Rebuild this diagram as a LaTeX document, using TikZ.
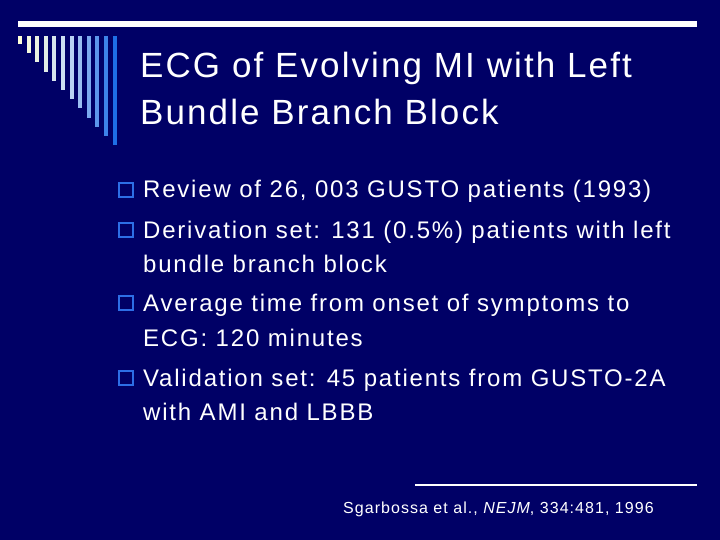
\documentclass[tikz,border=0pt]{standalone}
\usepackage{fontspec}
\setmainfont{Liberation Sans}
\begin{document}
\begin{tikzpicture}[x=1pt,y=-1pt,
  body/.style={anchor=base west,inner sep=0,font=\fontsize{24}{28}\selectfont\addfontfeature{LetterSpace=7.5},text=white},
  bul/.style={draw=bulc,line width=1.6pt,minimum size=14pt,inner sep=0}]
\definecolor{bg}{RGB}{0,0,102}
\definecolor{bulc}{RGB}{45,110,230}
\fill[bg] (0,0) rectangle (720,540);
\useasboundingbox (0,0) rectangle (720,540);
\fill[white] (18,21) rectangle (697,27);
\foreach \i in {0,...,11}{
  \pgfmathsetmacro{\t}{\i/11}
  \pgfmathsetmacro{\r}{ifthenelse(\t<0.5,255-2*\t*55,200-(2*\t-1)*170)}
  \pgfmathsetmacro{\g}{ifthenelse(\t<0.5,255-2*\t*35,220-(2*\t-1)*110)}
  \pgfmathsetmacro{\b}{ifthenelse(\t<0.5,215+2*\t*30,245-(2*\t-1)*15)}
  \definecolor{bc}{RGB}{\r,\g,\b}
  \fill[bc] (18+\i*8.6,36) rectangle (22+\i*8.6,44+\i*9.2);
}
\node[anchor=base west,inner sep=0,font=\fontsize{35}{40}\selectfont\addfontfeature{LetterSpace=6},text=white] (t1) at (140,78) {ECG of Evolving MI with Left};
\node[anchor=base west,inner sep=0,font=\fontsize{35}{40}\selectfont\addfontfeature{LetterSpace=6},text=white] (t2) at (140,125) {Bundle Branch Block};
\foreach \y/\n in {190/1,230/2,303/3,378/4} \node[bul] (b\n) at (126,\y) {};
\node[body] (l1) at (143,198) {Review of 26, 003 GUSTO patients (1993)};
\node[body] (l2) at (143,238) {Derivation set: 131 (0.5\%) patients with left};
\node[body] (l3) at (143,272) {bundle branch block};
\node[body] (l4) at (143,311) {Average time from onset of symptoms to};
\node[body] (l5) at (143,346) {ECG: 120 minutes};
\node[body] (l6) at (143,386) {Validation set: 45 patients from GUSTO-2A};
\node[body] (l7) at (143,420) {with AMI and LBBB};
\draw[white,line width=2pt] (415,485) -- (697,485);
\node[anchor=base west,inner sep=0,font=\fontsize{16}{18}\selectfont\addfontfeature{LetterSpace=6.5},text=white] (c) at (343,513) {Sgarbossa et al., \textit{NEJM}, 334:481, 1996};
\end{tikzpicture}
\end{document}
